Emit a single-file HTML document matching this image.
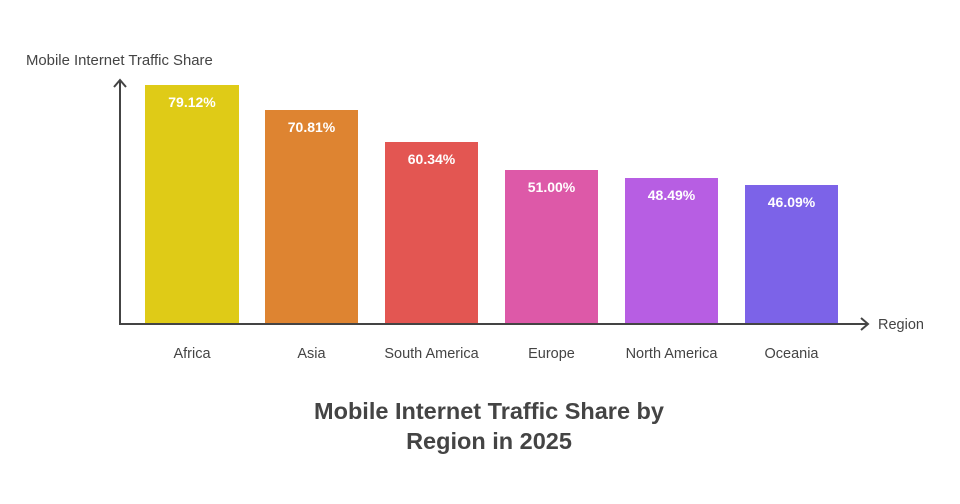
<!DOCTYPE html>
<html><head><meta charset="utf-8"><style>
html,body{margin:0;padding:0;background:#fff;}
svg{display:block;font-family:"Liberation Sans",sans-serif;}
</style></head><body>
<svg width="960" height="504" viewBox="0 0 960 504">
<rect width="960" height="504" fill="#fff"/>
<text x="26" y="65" font-size="14.9" fill="#444">Mobile Internet Traffic Share</text>
<rect x="145" y="85" width="94" height="239" fill="#dfcb17"/>
<rect x="265" y="110" width="93" height="214" fill="#de8431"/>
<rect x="385" y="142" width="93" height="182" fill="#e35652"/>
<rect x="505" y="170" width="93" height="154" fill="#dd59a8"/>
<rect x="625" y="178" width="93" height="146" fill="#b75ee3"/>
<rect x="745" y="185" width="93" height="139" fill="#7c63e8"/>
<g font-size="14" font-weight="bold" fill="#fff" text-anchor="middle">
<text x="192" y="107">79.12%</text>
<text x="311.5" y="132">70.81%</text>
<text x="431.5" y="164">60.34%</text>
<text x="551.5" y="192">51.00%</text>
<text x="671.5" y="200">48.49%</text>
<text x="791.5" y="207">46.09%</text>
</g>
<g stroke="#444" stroke-width="2" fill="none">
<line x1="120" y1="81" x2="120" y2="324"/>
<polyline points="114,87 120,80 126,87"/>
<line x1="119" y1="324" x2="868" y2="324"/>
<polyline points="861,318 868,324 861,330"/>
</g>
<text x="878" y="329" font-size="14.5" fill="#444">Region</text>
<g font-size="14.5" fill="#444" text-anchor="middle">
<text x="192" y="358">Africa</text>
<text x="311.5" y="358">Asia</text>
<text x="431.5" y="358">South America</text>
<text x="551.5" y="358">Europe</text>
<text x="671.5" y="358">North America</text>
<text x="791.5" y="358">Oceania</text>
</g>
<g font-size="23.5" font-weight="bold" fill="#444" text-anchor="middle">
<text x="489" y="419">Mobile Internet Traffic Share by</text>
<text x="489" y="449">Region in 2025</text>
</g>
</svg>
</body></html>
